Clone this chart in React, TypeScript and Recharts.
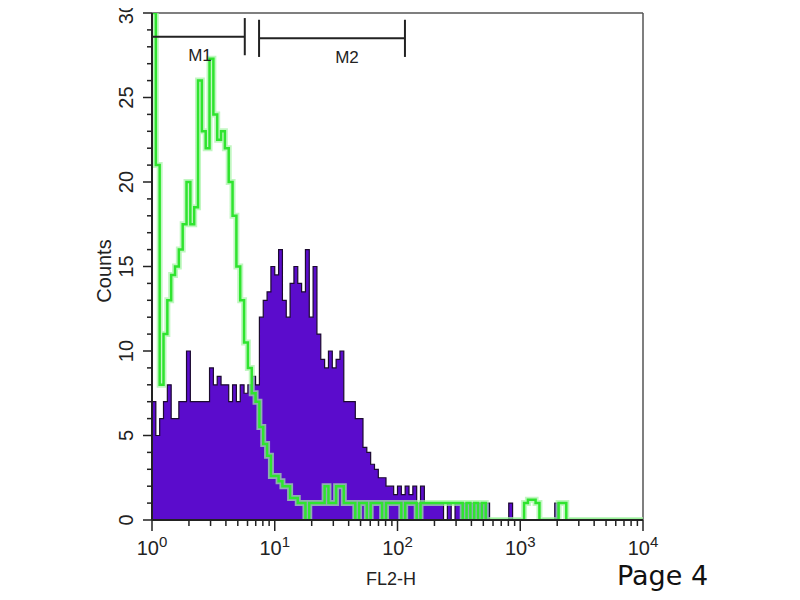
import React from "react";
import {
  ComposedChart,
  Area,
  Line,
  XAxis,
  YAxis,
  ReferenceLine,
  ReferenceDot,
  Label,
} from "recharts";

// 32 channels per decade, FL2-H from 10^0 to 10^4
const CHANNELS_PER_DECADE = 32;

// sample (purple, filled)
const sampleCounts = [
  7, 5, 6, 7, 8, 6, 6, 7, 7, 10, 7, 7, 7, 7, 7, 9,
  8, 8.5, 8, 8, 7, 8, 7, 8, 7.5, 8, 8.5, 8, 12, 13, 13.5, 15,
  14.5, 16, 13, 12, 14, 15, 14, 13.5, 16, 12, 15, 11, 9.5, 9, 10, 9,
  9.5, 10, 7, 7, 7, 6, 6, 4.3, 4, 3.3, 3, 2.5, 2.5, 2, 2, 1.5,
  2, 1.5, 2, 1.5, 2, 1, 2, 1, 1, 1, 1, 1, 0, 1, 0, 1,
  1, 1, 1, 1, 1, 1, 1, 1, 0, 0, 0, 0, 0, 1, 0, 0,
  0, 0, 0, 0, 0, 0, 0, 0, 0, 1, 0, 0, 0, 0, 0, 0,
  0, 0, 0, 0, 0, 0, 0, 0, 0, 0, 0, 0, 0, 0, 0, 0,
  0,
];

// isotype control (green outline)
const controlCounts = [
  30, 21, 8, 11, 13, 14.5, 15, 16, 17.5, 20, 17.5, 18.5, 26, 23, 22, 27.3,
  24, 22.5, 23, 22, 20, 18, 15, 13, 10.5, 9, 7.5, 7, 5.5, 4.5, 3.8, 2.6,
  2.6, 2.3, 2, 2, 1.3, 1.3, 1, 1, 0, 1, 1, 1, 1, 2, 1, 1,
  2, 2, 1, 1, 1, 0, 1, 1, 0, 1, 1, 1, 0, 1, 1, 1,
  1, 0, 1, 1, 1, 0, 1, 1, 1, 1, 1, 1, 1, 1, 1, 1,
  1, 0, 1, 0, 1, 0, 1, 0, 0, 0, 0, 0, 0, 0, 0, 0,
  0, 1, 1.2, 1.2, 1, 0, 0, 0, 0, 0, 1, 1, 0, 0, 0, 0,
  0, 0, 0, 0, 0, 0, 0, 0, 0, 0, 0, 0, 0, 0, 0, 0,
  0,
];

const xDecades = [1, 10, 100, 1000, 10000];
const xMinor = [2, 3, 4, 5, 6, 7, 8, 9];
const yTicks = [
  0, 1, 2, 3, 4, 5, 6, 7, 8, 9, 10, 11, 12, 13, 14, 15,
  16, 17, 18, 19, 20, 21, 22, 23, 24, 25, 26, 27, 28, 29, 30,
];

const gates = [
  { name: "M1", lo: 1, hi: 5.7, level: 28.6, labelAt: 2.46 },
  { name: "M2", lo: 7.45, hi: 115, level: 28.5, labelAt: 38.8 },
];

const xTicks = [
  ...xDecades,
  ...xDecades.slice(0, -1).flatMap((d) => xMinor.map((m) => d * m)),
].sort((a, b) => a - b);

const data = sampleCounts.map((s, i) => ({
  fl2: Math.pow(10, i / CHANNELS_PER_DECADE),
  sample: s,
  control: controlCounts[i],
}));

const INK = "#222";
const FONT = '"Liberation Sans", Arial, sans-serif';

const XTick = (props: any) => {
  const { x, y, payload } = props;
  const v = payload.value as number;
  const exp = Math.round(Math.log10(v));
  const major = Math.abs(Math.log10(v) - exp) < 1e-6;
  return (
    <g>
      <line x1={x} x2={x} y1={y} y2={y + (major ? 11 : 6)} stroke={INK} strokeWidth={1.5} />
      {major && (
        <text x={x} y={y + 35} textAnchor="middle" fontSize={20} fill={INK} fontFamily={FONT}>
          10
          <tspan dy={-8} fontSize={15}>
            {exp}
          </tspan>
        </text>
      )}
    </g>
  );
};

const YTick = (props: any) => {
  const { x, y, payload } = props;
  const v = payload.value as number;
  const major = v % 5 === 0;
  const lx = x - 26;
  return (
    <g>
      <line x1={x - (major ? 9 : 5)} x2={x} y1={y} y2={y} stroke={INK} strokeWidth={1.5} />
      {major && (
        <text
          x={lx}
          y={y}
          transform={`rotate(-90 ${lx} ${y})`}
          textAnchor="middle"
          dominantBaseline="central"
          fontSize={20}
          fill={INK}
          fontFamily={FONT}
        >
          {v}
        </text>
      )}
    </g>
  );
};

export default function App() {
  return (
    <div
      style={{
        position: "relative",
        width: 800,
        height: 600,
        margin: -8,
        background: "#fff",
        fontFamily: FONT,
      }}
    >
      <ComposedChart
        width={800}
        height={600}
        data={data}
        margin={{ top: 13, right: 157, bottom: 0, left: 0 }}
        style={{ overflow: "visible" }}
      >
        <XAxis
          dataKey="fl2"
          type="number"
          scale="log"
          domain={[1, 10000]}
          allowDataOverflow
          ticks={xTicks}
          interval={0}
          tick={<XTick />}
          tickLine={false}
          tickSize={0}
          tickMargin={0}
          height={80}
          axisLine={{ stroke: INK, strokeWidth: 2 }}
        >
          <Label
            content={() => (
              <text x={391} y={585} textAnchor="middle" fontSize={18} fill={INK} fontFamily={FONT}>
                FL2-H
              </text>
            )}
          />
        </XAxis>
        <YAxis
          type="number"
          domain={[0, 30]}
          allowDataOverflow
          ticks={yTicks}
          interval={0}
          tick={<YTick />}
          tickLine={false}
          tickSize={0}
          tickMargin={0}
          width={152}
          axisLine={{ stroke: INK, strokeWidth: 2 }}
        >
          <Label
            content={() => (
              <text
                x={104}
                y={271}
                transform="rotate(-90 104 271)"
                textAnchor="middle"
                dominantBaseline="central"
                fontSize={20}
                fill={INK}
                fontFamily={FONT}
              >
                Counts
              </text>
            )}
          />
        </YAxis>

        <ReferenceLine y={30} stroke="#555" strokeWidth={1.5} />
        <ReferenceLine x={10000} stroke="#555" strokeWidth={1.5} />

        <Area
          dataKey="sample"
          type="stepAfter"
          fill="#5b0ccc"
          fillOpacity={1}
          stroke="#1c0a30"
          strokeWidth={1.2}
          isAnimationActive={false}
        />
        <Line
          dataKey="control"
          type="stepAfter"
          stroke="#a6f3a6"
          strokeOpacity={0.7}
          strokeWidth={6}
          dot={false}
          activeDot={false}
          isAnimationActive={false}
        />
        <Line
          dataKey="control"
          type="stepAfter"
          stroke="#2fe42f"
          strokeWidth={2.5}
          dot={false}
          activeDot={false}
          isAnimationActive={false}
        />

        {gates.map((g) => (
          <ReferenceLine
            key={g.name + "bar"}
            segment={[
              { x: g.lo, y: g.level },
              { x: g.hi, y: g.level },
            ]}
            stroke={INK}
            strokeWidth={2}
          />
        ))}
        {gates.flatMap((g) =>
          [g.lo, g.hi].map((end, k) => (
            <ReferenceLine
              key={g.name + "end" + k}
              segment={[
                { x: end, y: g.level + 1.1 },
                { x: end, y: g.level - 1.1 },
              ]}
              stroke={INK}
              strokeWidth={2}
            />
          ))
        )}
        {gates.map((g) => (
          <ReferenceDot
            key={g.name + "label"}
            x={g.labelAt}
            y={g.level - 1.1}
            r={0}
            fill="none"
            stroke="none"
            label={{ value: g.name, position: "center", fontSize: 17, fill: INK, fontFamily: FONT }}
          />
        ))}
      </ComposedChart>
      <div
        style={{
          position: "absolute",
          left: 617,
          top: 560,
          fontSize: 27,
          color: "#111",
          fontFamily: '"DejaVu Sans", sans-serif',
        }}
      >
        Page 4
      </div>
    </div>
  );
}
